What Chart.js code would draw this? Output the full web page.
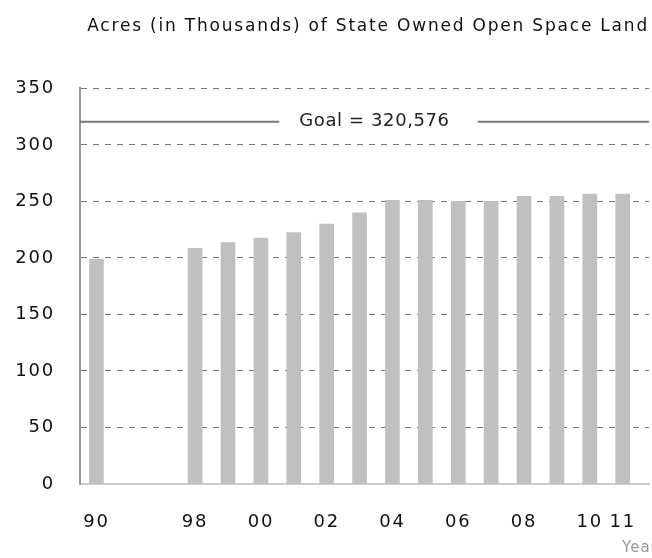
<!DOCTYPE html>
<html>
<head>
<meta charset="utf-8">
<script src="https://cdn.jsdelivr.net/npm/chart.js@4"></script>
<style>
  html, body { margin: 0; padding: 0; background: #fff; overflow: hidden; }
  #wrap { width: 652px; height: 558px; position: relative; }
</style>
</head>
<body>
<div id="wrap"><canvas id="c" width="652" height="558"></canvas></div>
<script>
// ---- data ----
const chartTitle = 'Acres (in Thousands) of State Owned Open Space Land';
const categories = ['90', '', '', '98', '99', '00', '01', '02', '03', '04', '05', '06', '07', '08', '09', '10', '11'];
const acres = [199, null, null, 208.5, 213.5, 217.5, 222.5, 230, 240, 251, 251, 250, 250, 254.5, 254.5, 256.5, 256.5];
const tickLabels = ['90', '98', '00', '02', '04', '06', '08', '10', '11'];
const yTickValues = [0, 50, 100, 150, 200, 250, 300, 350];
const goalValue = 320.576;
const goalText = 'Goal = 320,576';
const xAxisTitle = 'Year';

const xMin = -0.5, xMax = 16.8;
const FONT = 'DejaVu Sans';
const SPACING = '1.8px';

const barData = acres.map((v, i) => v == null ? null : { x: i, y: v }).filter(Boolean);
const goalData = [{ x: xMin, y: goalValue }, { x: xMax, y: goalValue }];
const tickIdx = tickLabels.map(l => categories.indexOf(l));

const overlay = {
  id: 'overlay',
  beforeUpdate(chart) { chart.ctx.letterSpacing = SPACING; },
  beforeDraw(chart) { chart.ctx.letterSpacing = SPACING; },
  afterDatasetsDraw(chart) {
    const { ctx, chartArea, scales } = chart;
    const y = scales.y.getPixelForValue(goalValue);
    const cx = (chartArea.left + chartArea.right) / 2 + 10;
    ctx.save();
    ctx.letterSpacing = '0.6px';
    ctx.font = '18px "' + FONT + '"';
    const w = ctx.measureText(goalText).width;
    ctx.fillStyle = '#fff';
    ctx.fillRect(cx - w / 2 - 20, y - 4, w + 48, 8);
    ctx.fillStyle = '#222';
    ctx.textAlign = 'center';
    ctx.textBaseline = 'middle';
    ctx.fillText(goalText, cx, y);
    ctx.restore();
  },
  afterDraw(chart) {
    const { ctx, chartArea } = chart;
    ctx.save();
    ctx.letterSpacing = '1px';
    ctx.font = '15px "' + FONT + '"';
    ctx.fillStyle = '#999';
    ctx.textAlign = 'left';
    ctx.textBaseline = 'middle';
    ctx.fillText(xAxisTitle, chartArea.right - 27, chart.height - 10);
    ctx.restore();
  }
};

new Chart(document.getElementById('c'), {
  type: 'bar',
  plugins: [overlay],
  data: {
    datasets: [
      {
        type: 'line',
        data: goalData,
        borderColor: '#777',
        borderWidth: 2,
        pointRadius: 0,
        order: 0
      },
      {
        type: 'bar',
        data: barData,
        backgroundColor: '#c0c0c0',
        barThickness: 14,
        order: 1
      }
    ]
  },
  options: {
    responsive: false,
    animation: false,
    layout: { padding: { left: 0, right: 3, top: 0, bottom: 0 } },
    plugins: {
      legend: { display: false },
      tooltip: { enabled: false },
      title: {
        display: true,
        text: chartTitle,
        color: '#111',
        font: { family: FONT, size: 17, weight: 'normal' },
        padding: { top: 16, bottom: 52 },
        align: 'end'
      }
    },
    scales: {
      x: {
        type: 'linear',
        offset: false,
        min: xMin,
        max: xMax,
        afterBuildTicks: s => { s.ticks = tickIdx.map(v => ({ value: v })); },
        afterFit: s => { s.height = 74; },
        grid: { display: false, drawTicks: true, tickLength: 28 },
        border: { color: '#ccc', width: 2 },
        ticks: {
          autoSkip: false,
          maxRotation: 0,
          padding: 0,
          color: '#111',
          font: { family: FONT, size: 18 },
          callback: v => categories[v]
        }
      },
      y: {
        min: 0,
        max: 350,
        afterBuildTicks: s => { s.ticks = yTickValues.map(v => ({ value: v })); },
        afterFit: s => { s.width = 80; },
        border: { color: '#999', width: 2, dash: [6, 6] },
        grid: {
          drawTicks: false,
          color: c => c.tick && c.tick.value === 0 ? 'rgba(0,0,0,0)' : '#777',
          lineWidth: 1
        },
        ticks: {
          padding: 25,
          color: '#111',
          font: { family: FONT, size: 18 }
        }
      }
    }
  }
});
</script>
</body>
</html>
